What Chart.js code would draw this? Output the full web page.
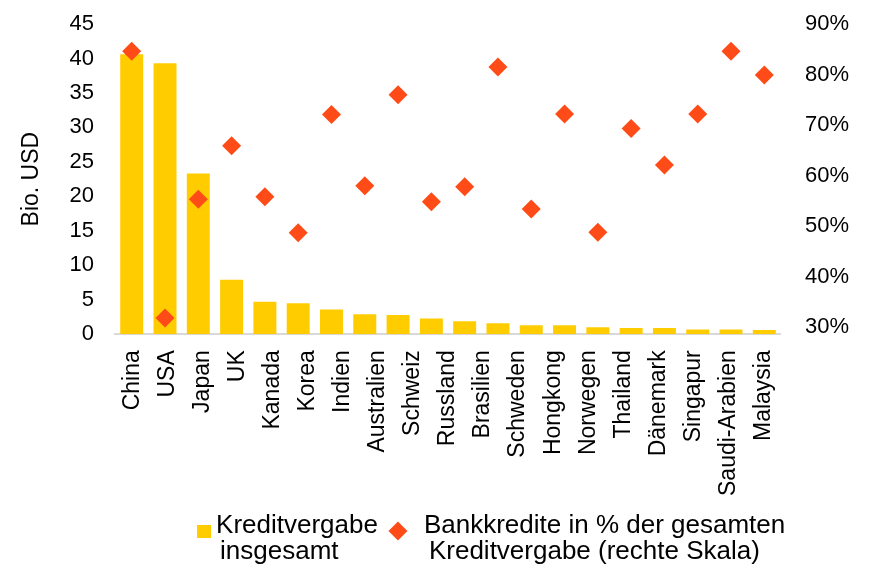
<!DOCTYPE html>
<html lang="de">
<head>
<meta charset="utf-8">
<title>Kreditvergabe</title>
<script src="https://cdn.jsdelivr.net/npm/chart.js@4/dist/chart.umd.min.js"></script>
<style>
  html, body { margin: 0; padding: 0; background: #fff; }
  #wrap { width: 873px; height: 564px; }
</style>
</head>
<body>
<div id="wrap"><canvas id="chart"></canvas></div>
<script>
  // ── data ──────────────────────────────────────────────────────────────
  // tick labels shown under the plot (19 names over the full width)
  const COUNTRY_LABELS = ['China', 'USA', 'Japan', 'UK', 'Kanada', 'Korea', 'Indien',
    'Australien', 'Schweiz', 'Russland', 'Brasilien', 'Schweden', 'Hongkong',
    'Norwegen', 'Thailand', 'Dänemark', 'Singapur', 'Saudi-Arabien', 'Malaysia'];

  // the plot itself holds 20 bar slots, the last one has no name
  const BAR_SLOTS = COUNTRY_LABELS.concat(['']);

  // Kreditvergabe insgesamt, Bio. USD (left scale)
  const CREDIT_TOTAL = [40.6, 39.3, 23.3, 7.9, 4.7, 4.5, 3.6, 2.9, 2.8, 2.3,
    1.9, 1.6, 1.3, 1.3, 1.0, 0.9, 0.9, 0.7, 0.7, 0.6];

  // Bankkredite in % der gesamten Kreditvergabe (right scale)
  const BANK_SHARE = [84.6, 31.8, 55.3, 65.9, 55.8, 48.7, 72.1, 58.0, 76.0, 54.8,
    57.8, 81.5, 53.4, 72.2, 48.8, 69.3, 62.1, 72.2, 84.6, 79.9];

  const RIGHT_TICKS = [30, 40, 50, 60, 70, 80, 90];

  const LEGEND_TEXT = {
    total: ['Kreditvergabe', 'insgesamt'],
    share: ['Bankkredite in % der gesamten', 'Kreditvergabe (rechte Skala)']
  };

  const YELLOW = '#FFCC00';
  const RED = '#FF4B17';
  const FONT = '"Liberation Sans", Arial, Helvetica, sans-serif';

  Chart.defaults.font.family = FONT;
  Chart.defaults.color = '#000';

  // no extra room for half labels at the ends of the value axes
  const noEndPadding = scale => {
    scale.paddingTop = 0;
    scale.paddingBottom = 0;
  };

  // legend drawn by hand: two-line labels, box/diamond next to the first line
  const twoLineLegend = {
    id: 'twoLineLegend',
    afterDraw(chart) {
      const ctx = chart.ctx;
      const share = chart.data.datasets[0];
      const total = chart.data.datasets[1];
      const size = 26, lineH = 26;
      const base = chart.height - 31;
      const x = chart.chartArea.left + 82;

      ctx.save();
      ctx.font = size + 'px ' + FONT;
      ctx.textBaseline = 'alphabetic';
      ctx.textAlign = 'left';

      // item 1 – yellow square
      ctx.fillStyle = total.backgroundColor;
      ctx.fillRect(x, base - 8, 14, 13);
      ctx.fillStyle = '#000';
      const t1 = x + 19;
      LEGEND_TEXT.total.forEach((s, i) => ctx.fillText(s, t1 + (i ? 4 : 0), base + i * lineH));
      const w1 = Math.max(...LEGEND_TEXT.total.map(s => ctx.measureText(s).width));

      // item 2 – diamond
      const dx = t1 + w1 + 20;
      ctx.fillStyle = share.backgroundColor;
      Chart.helpers.drawPoint(ctx, { pointStyle: 'rectRot', radius: 9.5, rotation: 0, borderWidth: 0 }, dx, base - 2);
      ctx.fillStyle = '#000';
      const t2 = dx + 26;
      LEGEND_TEXT.share.forEach((s, i) => ctx.fillText(s, t2 + (i ? 5 : 0), base + i * lineH));
      ctx.restore();
    }
  };

  new Chart(document.getElementById('chart'), {
    data: {
      labels: BAR_SLOTS,
      datasets: [
        {
          type: 'line',
          label: LEGEND_TEXT.share.join(' '),
          data: BANK_SHARE,
          yAxisID: 'y2',
          showLine: false,
          pointStyle: 'rectRot',
          pointRadius: 9.5,
          pointHoverRadius: 9.5,
          pointBorderWidth: 0,
          backgroundColor: RED,
          borderColor: RED,
          order: 0
        },
        {
          type: 'bar',
          label: LEGEND_TEXT.total.join(' '),
          data: CREDIT_TOTAL,
          yAxisID: 'y',
          backgroundColor: YELLOW,
          borderWidth: 0,
          categoryPercentage: 1,
          barPercentage: 0.69,
          order: 1
        }
      ]
    },
    options: {
      responsive: true,
      maintainAspectRatio: false,
      animation: false,
      layout: { autoPadding: false, padding: { left: 14, right: 0, top: 24, bottom: 52 } },
      plugins: {
        legend: { display: false },
        tooltip: { enabled: false }
      },
      scales: {
        x: {
          type: 'category',
          offset: true,
          grid: { display: false, drawTicks: false },
          border: { display: true, color: '#D9D9D9', width: 2 },
          ticks: { display: false }
        },
        xl: {
          type: 'category',
          position: 'bottom',
          labels: COUNTRY_LABELS,
          offset: true,
          weight: 1,
          grid: { display: false, drawTicks: false },
          border: { display: false },
          ticks: {
            autoSkip: false,
            minRotation: 90,
            maxRotation: 90,
            padding: 16,
            font: { size: 23 },
            color: '#000'
          }
        },
        y: {
          position: 'left',
          min: 0,
          max: 45,
          afterFit: noEndPadding,
          grid: { display: false, drawTicks: false },
          border: { display: false },
          ticks: { stepSize: 5, padding: 21, font: { size: 22 }, color: '#000' },
          title: {
            display: true,
            text: 'Bio. USD',
            font: { size: 23 },
            color: '#000',
            padding: { top: 4, bottom: 3 }
          }
        },
        y2: {
          position: 'right',
          min: 28.6,
          max: 90,
          afterFit: noEndPadding,
          grid: { display: false, drawTicks: false },
          border: { display: false },
          afterBuildTicks: scale => { scale.ticks = RIGHT_TICKS.map(v => ({ value: v })); },
          ticks: {
            padding: 24,
            font: { size: 22 },
            color: '#000',
            callback: v => v + '%'
          }
        }
      }
    },
    plugins: [twoLineLegend]
  });
</script>
</body>
</html>
